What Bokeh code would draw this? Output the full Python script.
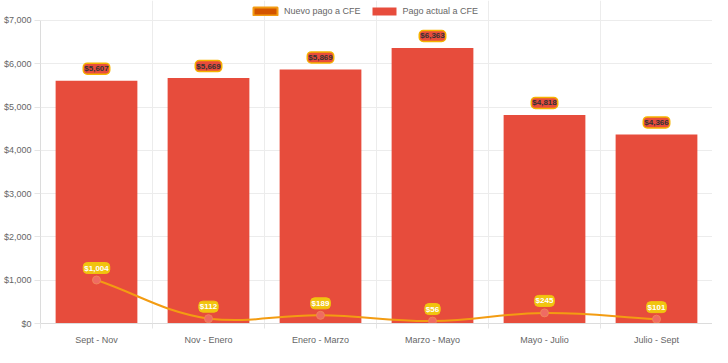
import math
from bokeh.plotting import figure
from bokeh.models import (ColumnDataSource, FixedTicker, NumeralTickFormatter, Legend,
                          LegendItem, Range1d)
from bokeh.embed import file_html
from bokeh.resources import INLINE
from bokeh.core.properties import value

# ---- data ----
periods = ["Sept - Nov", "Nov - Enero", "Enero - Marzo", "Marzo - Mayo", "Mayo - Julio", "Julio - Sept"]
pago_actual = [5607, 5669, 5869, 6363, 4818, 4366]
nuevo_pago = [1004, 112, 189, 56, 245, 101]
y_ticks = [0, 1000, 2000, 3000, 4000, 5000, 6000, 7000]
Y_MAX = 7000
Y_VIEW = 7460   # extra headroom above the $7,000 line for the legend

FONT = "Liberation Sans"
xs = [i + 0.5 for i in range(len(periods))]
fmt = lambda v: "${:,}".format(v)

p = figure(width=712, height=347, x_range=Range1d(0, len(periods)), y_range=Range1d(0, Y_VIEW),
           output_backend="svg", toolbar_location=None,
           min_border_left=0, min_border_right=0, min_border_top=0, min_border_bottom=0)
p.outline_line_color = None
p.background_fill_color = "white"

# axes
p.xaxis.axis_label = None
p.yaxis.axis_label = None
p.xaxis.ticker = FixedTicker(ticks=xs, minor_ticks=list(range(len(periods) + 1)))
p.xaxis.major_label_overrides = {x: lab for x, lab in zip(xs, periods)}
p.xaxis.major_tick_out = 0
p.xaxis.major_tick_in = 0
p.xaxis.minor_tick_out = 5
p.xaxis.minor_tick_in = 0
p.xaxis.minor_tick_line_color = "#e5e5e5"
p.xaxis.major_label_standoff = 6
p.yaxis.ticker = FixedTicker(ticks=y_ticks, minor_ticks=[])
p.yaxis.formatter = NumeralTickFormatter(format="$0,0")
p.yaxis.bounds = (0, Y_MAX)
p.yaxis.major_tick_out = 6
p.yaxis.major_tick_in = 0
p.yaxis.major_tick_line_color = "#e5e5e5"
p.yaxis.major_label_standoff = 3
for ax in (p.xaxis[0], p.yaxis[0]):
    ax.axis_line_color = "#dcdcdc"
    ax.major_label_text_font = FONT
    ax.major_label_text_font_size = "9px"
    ax.major_label_text_color = "#666666"

p.xgrid.ticker = FixedTicker(ticks=list(range(len(periods) + 1)))
p.xgrid.bounds = (0, Y_MAX)
p.xgrid.grid_line_color = "#ececec"
p.ygrid.grid_line_color = "#ececec"

# legend swatch renderer for the "Nuevo pago" series (drawn beneath the taller red bars)
swatch = p.vbar(x=xs, top=nuevo_pago, width=0.6, bottom=0, fill_color="#d35400",
                line_color="#f39c12", line_width=2)
# bars
bars = p.vbar(x=xs, top=pago_actual, width=0.73, bottom=0, fill_color="#e74c3c", line_color=None)

# smoothed line (Chart.js-like spline, tension 0.4, computed in approx. pixel space)
def spline_controls(xv, yv, t=0.4, sx=112.3, sy=324.0 / Y_VIEW):
    P = [(x * sx, y * sy) for x, y in zip(xv, yv)]
    n = len(P)
    prevc, nextc = [], []
    for i in range(n):
        pr = P[i - 1] if i > 0 else P[i]
        cu = P[i]
        nx = P[i + 1] if i < n - 1 else P[i]
        d01 = math.hypot(cu[0] - pr[0], cu[1] - pr[1])
        d12 = math.hypot(nx[0] - cu[0], nx[1] - cu[1])
        tot = d01 + d12
        s01 = d01 / tot if tot else 0
        s12 = d12 / tot if tot else 0
        fa, fb = t * s01, t * s12
        pc = (cu[0] - fa * (nx[0] - pr[0]), cu[1] - fa * (nx[1] - pr[1]))
        nc = (cu[0] + fb * (nx[0] - pr[0]), cu[1] + fb * (nx[1] - pr[1]))
        prevc.append((pc[0] / sx, max(pc[1], 0) / sy))
        nextc.append((nc[0] / sx, max(nc[1], 0) / sy))
    return prevc, nextc

pcs, ncs = spline_controls(xs, nuevo_pago)
seg = ColumnDataSource(dict(
    x0=xs[:-1], y0=nuevo_pago[:-1], x1=xs[1:], y1=nuevo_pago[1:],
    cx0=[c[0] for c in ncs[:-1]], cy0=[c[1] for c in ncs[:-1]],
    cx1=[c[0] for c in pcs[1:]], cy1=[c[1] for c in pcs[1:]],
))
p.bezier(x0="x0", y0="y0", x1="x1", y1="y1", cx0="cx0", cy0="cy0", cx1="cx1", cy1="cy1",
         source=seg, line_color="#f39c12", line_width=2)
p.scatter(x=xs, y=nuevo_pago, size=8, fill_color="#ef6b63", line_color="#f0845a", line_width=1)

# data labels
p.text(x=xs, y=pago_actual, text=[fmt(v) for v in pago_actual], text_align="center",
       text_baseline="middle", y_offset=-12, text_font=value(FONT), text_font_style="bold",
       text_font_size="8px", text_color="#333333", background_fill_color="#e74c3c",
       border_line_color="#f5b301", border_line_width=1.5, padding=1, border_radius=4)
p.text(x=xs, y=nuevo_pago, text=[fmt(v) for v in nuevo_pago], text_align="center",
       text_baseline="middle", y_offset=-12, text_font=value(FONT), text_font_style="bold",
       text_font_size="8px", text_color="white", background_fill_color="#f1c40f",
       border_line_color="#f1c40f", border_line_width=1, padding=1, border_radius=4)

# legend (inside the headroom above the $7,000 line)
legend = Legend(items=[LegendItem(label="Nuevo pago a CFE", renderers=[swatch]),
                       LegendItem(label="Pago actual a CFE", renderers=[bars])],
                orientation="horizontal", location=(210, 307),
                glyph_width=30, glyph_height=10, label_height=10, label_standoff=4, spacing=8,
                label_text_font=FONT, label_text_font_size="9px", label_text_color="#666666",
                padding=2, margin=0,
                background_fill_alpha=0, border_line_color=None)
p.add_layout(legend)

open("out.html", "w").write(file_html(p, INLINE))
